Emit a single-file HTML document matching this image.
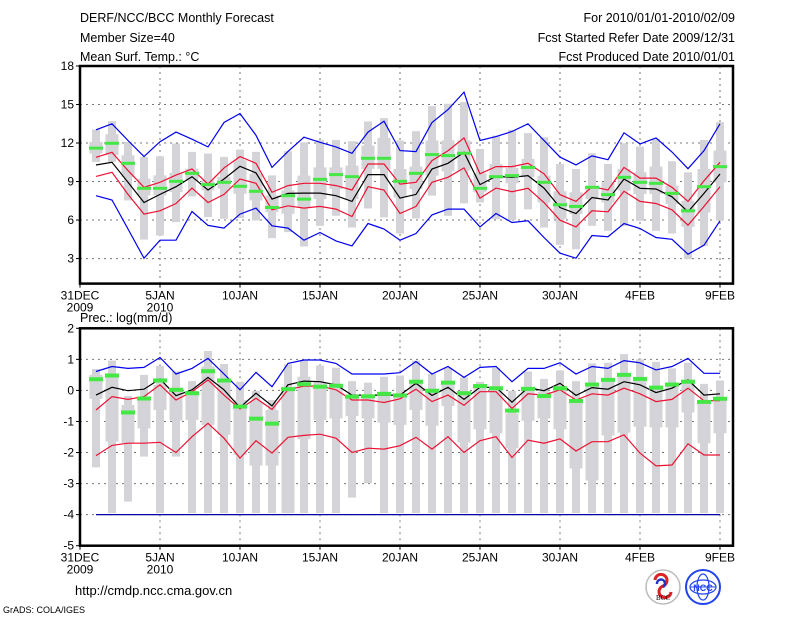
<!DOCTYPE html>
<html><head><meta charset="utf-8"><style>
body{margin:0;background:#fff;}
svg{display:block;font-family:"Liberation Sans",sans-serif;}
</style></head><body>
<svg id="chart" width="800" height="618" viewBox="0 0 800 618">
<g font-size="12.5" fill="#000">
<text x="80" y="22">DERF/NCC/BCC Monthly Forecast</text>
<text x="80" y="42">Member Size=40</text>
<text x="80" y="61">Mean Surf. Temp.: °C</text>
<text x="735" y="22" text-anchor="end">For 2010/01/01-2010/02/09</text>
<text x="735" y="42" text-anchor="end">Fcst Started Refer Date 2009/12/31</text>
<text x="735" y="61" text-anchor="end">Fcst Produced Date 2010/01/01</text>
</g>
<text x="80" y="322" font-size="12.5">Prec.: log(mm/d)</text>
<text x="75" y="595" font-size="13">http://cmdp.ncc.cma.gov.cn</text>
<text x="3" y="613" font-size="9">GrADS: COLA/IGES</text>
<g>
<circle cx="663" cy="587" r="17" fill="#fff" stroke="#bbb" stroke-width="1.5"/>
<path d="M655 580 a6 6 0 1 1 8 6 a6 6 0 1 0 8 6" fill="none" stroke="#d22" stroke-width="3"/>
<path d="M657 584 a4 4 0 1 1 6 3" fill="none" stroke="#23c" stroke-width="2.5"/>
<text x="663" y="600" font-size="7" text-anchor="middle" font-family="Liberation Serif,serif">BCC</text>
</g>
<g>
<circle cx="703" cy="587" r="17" fill="#fff" stroke="#24e" stroke-width="2"/>
<ellipse cx="703" cy="587" rx="13" ry="7" fill="none" stroke="#24e" stroke-width="1.2"/>
<ellipse cx="703" cy="587" rx="6" ry="13" fill="none" stroke="#24e" stroke-width="1.2"/>
<line x1="690" y1="587" x2="716" y2="587" stroke="#24e"/>
<text x="703" y="591" font-size="9" font-weight="bold" text-anchor="middle" fill="#24e">NCC</text>
</g>
<g id="plots"></g>
</svg>
<script>
// ---- Temperature panel data (day index 1..40 = Jan1..Feb9)
const tMax=[13.03,13.5,12.2,10.94,12.1,12.85,12.3,11.7,13.6,14.3,12.6,10.1,11.35,12.45,12.06,11.7,11.2,12.85,13.7,11.41,11.33,13.6,14.6,15.97,12.2,12.5,12.9,13.5,12.2,10.9,10.3,11.0,10.7,12.8,11.93,12.4,11.3,10.0,11.4,13.5];
const tMin=[7.9,7.56,5.3,3.03,4.43,4.43,6.67,5.58,5.37,6.46,6.93,5.55,5.37,4.43,5.03,4.38,3.99,5.73,5.3,4.43,4.95,6.4,6.85,6.85,5.47,6.51,5.81,5.94,4.64,3.42,3.03,4.8,4.7,5.73,5.34,4.64,4.5,3.34,4.04,5.94];
const tUp=[10.89,11.28,9.85,8.55,8.94,9.5,9.98,8.8,10.06,10.94,10.42,8.16,8.68,8.86,8.86,8.68,8.34,10.37,10.37,8.8,8.94,10.63,11.4,12.4,9.6,10.16,10.16,10.42,9.6,7.98,7.45,8.6,8.34,10.1,9.27,9.27,8.55,7.45,9.06,10.5];
const tLo=[9.4,9.72,8.0,6.46,6.72,7.29,8.49,7.37,8.0,9.2,8.86,6.8,7.11,6.93,7.06,6.85,6.28,8.6,8.34,6.51,7.06,8.94,9.33,10.06,7.71,8.49,8.21,8.47,7.37,5.99,5.47,6.72,6.64,8.24,7.45,7.29,6.8,5.6,7.06,8.6];
const tMean=[10.29,10.5,8.94,7.37,8.0,8.6,9.38,8.34,9.2,10.19,9.67,7.63,8.08,8.1,8.1,7.9,7.45,9.54,9.54,7.71,8.0,9.98,10.42,11.28,8.76,9.4,9.33,9.46,8.49,6.98,6.51,7.76,7.56,9.2,8.47,8.42,7.81,6.64,8.08,9.59];
const tObs=[11.6,11.98,10.42,8.47,8.47,9.02,9.64,8.76,8.94,8.63,8.24,6.98,7.9,7.63,9.17,9.54,9.38,10.81,10.81,9.02,9.64,11.1,11.02,11.2,8.47,9.38,9.46,10.1,8.94,7.19,7.06,8.55,7.98,9.33,8.94,8.86,8.08,6.72,8.6,10.16];
const tBoxOutHi=[13.05,13.7,12.09,10.92,10.97,11.96,11.31,11.18,10.92,11.49,11.31,9.48,11.36,12.06,12.24,12.24,12.14,13.68,13.94,12.2,12.92,14.87,15.06,15.19,11.54,12.58,13.02,12.77,12.45,10.37,9.98,11.2,10.37,11.98,11.72,12.32,10.58,9.72,12.24,13.63];
const tBoxOutLo=[10.53,10.53,7.53,4.48,4.8,5.84,7.84,6.23,6.1,6.15,5.97,4.59,5.06,3.94,5.55,6.33,5.42,6.9,6.2,4.95,6.12,7.9,6.33,7.3,7.37,6.07,6.0,6.83,5.42,4.07,3.73,5.55,5.16,5.55,5.94,5.16,4.95,2.95,3.99,5.94];
const tBoxInHi=[12.09,12.69,11.05,9.22,9.48,9.67,10.0,9.09,9.35,10.66,9.62,7.92,8.31,9.46,10.1,10.1,10.24,11.8,12.4,9.98,10.16,12.2,12.2,12.2,9.64,10.37,10.06,10.76,9.46,8.24,8.16,8.68,8.94,9.98,9.72,10.16,8.68,7.5,9.98,11.41];
const tBoxInLo=[11.18,11.05,9.35,7.92,7.92,8.18,9.09,8.31,8.44,8.05,7.53,6.62,6.49,6.98,7.63,8.42,7.63,9.98,9.98,7.76,8.42,9.46,9.8,9.85,8.16,9.2,8.86,9.33,7.37,6.07,6.46,7.63,7.37,8.29,8.03,8.03,7.24,5.47,6.59,8.94];
const tTicks=[18,15,12,9,6,3];
// ---- Precipitation panel data
const pMax=[0.61,0.77,0.71,0.74,1.06,0.53,0.71,1.03,0.53,0.02,0.58,0.12,0.87,0.98,0.98,0.87,0.53,0.53,0.53,0.57,0.93,0.53,0.77,0.42,0.74,0.77,0.28,0.71,0.71,0.89,0.53,0.77,0.71,0.96,0.89,0.66,0.77,1.03,0.55,0.55];
const pMin=[-4,-4,-4,-4,-4,-4,-4,-4,-4,-4,-4,-4,-4,-4,-4,-4,-4,-4,-4,-4,-4,-4,-4,-4,-4,-4,-4,-4,-4,-4,-4,-4,-4,-4,-4,-4,-4,-4,-4,-4];
const pUp=[-0.63,-0.2,-0.29,-0.2,0.18,-0.31,-0.04,0.34,-0.15,-0.6,-0.25,-0.61,0.02,0.14,0.14,0.02,-0.31,-0.31,-0.39,-0.27,0.04,-0.36,-0.15,-0.48,-0.04,-0.04,-0.58,-0.11,-0.15,0.02,-0.31,-0.11,-0.15,0.07,-0.11,-0.36,-0.29,0.07,-0.33,-0.33];
const pLo=[-2.1,-1.77,-1.7,-1.7,-1.67,-2.0,-1.49,-1.06,-1.54,-2.18,-1.62,-2.02,-1.51,-1.45,-1.41,-1.54,-2.0,-1.86,-1.89,-1.78,-1.51,-1.89,-1.49,-2.0,-1.62,-1.49,-2.16,-1.6,-1.7,-1.56,-1.95,-1.65,-1.65,-1.43,-2.02,-2.43,-2.4,-1.72,-2.08,-2.08];
const pMean=[-0.15,0.1,-0.01,0.04,0.37,-0.17,0.02,0.42,0.02,-0.55,-0.09,-0.5,0.18,0.3,0.28,0.18,-0.15,-0.15,-0.15,-0.15,0.23,-0.16,0.1,-0.29,0.1,0.1,-0.38,0.09,-0.01,0.23,-0.16,0.09,0.04,0.28,0.18,-0.07,0.07,0.34,-0.15,-0.11];
const pObs=[0.36,0.48,-0.71,-0.26,0.32,0.02,-0.09,0.62,0.32,-0.52,-0.91,-1.07,0.04,0.2,0.12,0.15,-0.2,-0.19,-0.11,-0.16,0.28,-0.01,0.25,-0.09,0.14,0.07,-0.65,0.05,-0.18,0.07,-0.34,0.19,0.34,0.5,0.37,0.09,0.19,0.28,-0.37,-0.27];
const pBoxOutHi=[0.69,0.96,-0.18,0.5,0.79,0.61,0.3,1.27,0.85,0.28,-0.01,-0.31,0.84,0.96,0.8,0.73,0.3,0.25,0.44,0.48,0.96,0.53,0.73,0.42,0.28,0.73,-0.01,0.61,0.37,0.64,0.3,0.87,0.89,1.17,1.0,0.92,0.71,0.89,0.21,0.32];
const pBoxOutLo=[-2.48,-3.95,-3.58,-2.13,-3.95,-2.13,-3.95,-3.95,-3.95,-3.95,-3.95,-3.95,-3.95,-3.95,-3.95,-3.95,-3.45,-2.99,-3.95,-3.95,-3.95,-3.95,-3.95,-3.95,-3.95,-3.95,-3.95,-3.95,-3.95,-3.95,-3.95,-3.95,-3.95,-3.95,-3.95,-3.95,-3.95,-3.95,-3.95,-3.95];
const pBoxInHi=[0.5,0.5,-0.47,-0.22,0.18,-0.01,-0.09,0.77,0.28,-0.31,-0.36,-0.63,0.12,0.44,0.28,0.12,-0.25,-0.25,-0.15,-0.2,0.23,-0.01,0.25,-0.15,0.21,0.12,-0.74,0.07,-0.04,0.07,-0.31,0.23,0.34,0.44,0.39,0.14,0.14,0.3,-0.31,-0.25];
const pBoxInLo=[-0.27,-1.65,-1.7,-1.22,-0.63,-0.97,-0.95,-1.11,-1.43,-2.08,-2.42,-2.42,-3.95,-1.57,-0.95,-0.9,-0.82,-0.9,-1.04,-1.11,-0.63,-1.14,-0.5,-1.68,-1.25,-1.38,-1.86,-0.98,-0.9,-1.25,-2.51,-2.9,-1.45,-1.36,-1.17,-1.19,-1.19,-0.71,-1.7,-1.38];
const pTicks=[2,1,0,-1,-2,-3,-4,-5];
const xTickDays=[0,5,10,15,20,25,30,35,40];
const xTickLabels=["31DEC","5JAN","10JAN","15JAN","20JAN","25JAN","30JAN","4FEB","9FEB"];
const xTickSub=["2009","2010","","","","","","",""];

const NS="http://www.w3.org/2000/svg";
const root=document.getElementById('plots');
function xS(d){return 80+16*d;}
function mk(tag,attrs,parent){const e=document.createElementNS(NS,tag);for(const k in attrs)e.setAttribute(k,attrs[k]);parent.appendChild(e);return e;}

function panel(name,top,bot,vmax,vmin,ticks,series,boxes,obsH){
  const g=mk('g',{},root);
  
  
  const yS=v=>top+(vmax-v)*(bot-top)/(vmax-vmin);
  // grid
  ticks.forEach(t=>{
    const y=yS(t);
    if(t<vmax&&t>vmin){const l=mk('line',{x1:80,x2:733,y1:y,y2:y,stroke:'#777','stroke-width':1,'stroke-dasharray':'2,4'},g);
    
    }
    const tx=mk('text',{x:74,y:y+4,'font-size':12,'text-anchor':'end'},g);
    tx.textContent=t;
    
    
    mk('line',{x1:76,x2:80,y1:y,y2:y,stroke:'#000'},g);
  });
  xTickDays.forEach((d,i)=>{
    const x=xS(d);
    if(d>0){const l=mk('line',{x1:x,x2:x,y1:top,y2:bot,stroke:'#777','stroke-width':1,'stroke-dasharray':'2,4'},g);
    
    }
    mk('line',{x1:x,x2:x,y1:bot,y2:bot+4,stroke:'#000'},g);
    const tx=mk('text',{x:x,y:bot+16,'font-size':12,'text-anchor':'middle'},g);
    tx.textContent=xTickLabels[i];
    
    
    if(xTickSub[i]){const s=mk('text',{x:x,y:bot+28,'font-size':12,'text-anchor':'middle'},g);
    s.textContent=xTickSub[i];
    
    }
  });
  // boxes
  const [oh,ol,ih,il]=boxes;
  for(let i=0;i<oh.length;i++){
    const x=xS(i+1);
    const r1=mk('rect',{x:x-4,y:yS(oh[i]),width:8,height:yS(ol[i])-yS(oh[i]),fill:'#d4d4d8'},g);
    
    
    const r2=mk('rect',{x:x-6.5,y:yS(ih[i]),width:13,height:yS(il[i])-yS(ih[i]),fill:'#d4d4d8'},g);
    
    
  }
  series.forEach(s=>{
    const pts=s.data.map((v,i)=>xS(i+1)+','+yS(v).toFixed(1)).join(' ');
    const p=mk('polyline',{points:pts,fill:'none',stroke:s.color,'stroke-width':1.2},g);
    
    
  });
  series.obs.forEach((v,i)=>{
    const r=mk('rect',{x:xS(i+1)-7,y:yS(v)-obsH/2,width:14,height:obsH,fill:'#44e844'},g);
    
    
  });
  const f=mk('rect',{x:80,y:top,width:653,height:bot-top,fill:'none',stroke:'#000','stroke-width':2.5},g);
  
  
}
const tSeries=[{name:'max-line',data:tMax,color:'#0000ee'},{name:'min-line',data:tMin,color:'#0000ee'},{name:'upper-line',data:tUp,color:'#ee1133'},{name:'lower-line',data:tLo,color:'#ee1133'},{name:'mean-line',data:tMean,color:'#000'}];
tSeries.obs=tObs;
panel('temperature-panel',66,283.6,18,1.05,tTicks,tSeries,[tBoxOutHi,tBoxOutLo,tBoxInHi,tBoxInLo],3);
const pSeries=[{name:'max-line',data:pMax,color:'#0000ee'},{name:'min-line',data:pMin,color:'#0000aa'},{name:'upper-line',data:pUp,color:'#ee1133'},{name:'lower-line',data:pLo,color:'#ee1133'},{name:'mean-line',data:pMean,color:'#000'}];
pSeries.obs=pObs;
panel('precipitation-panel',328.3,545.7,2,-5,pTicks,pSeries,[pBoxOutHi,pBoxOutLo,pBoxInHi,pBoxInLo],4);
</script>
</body></html>
